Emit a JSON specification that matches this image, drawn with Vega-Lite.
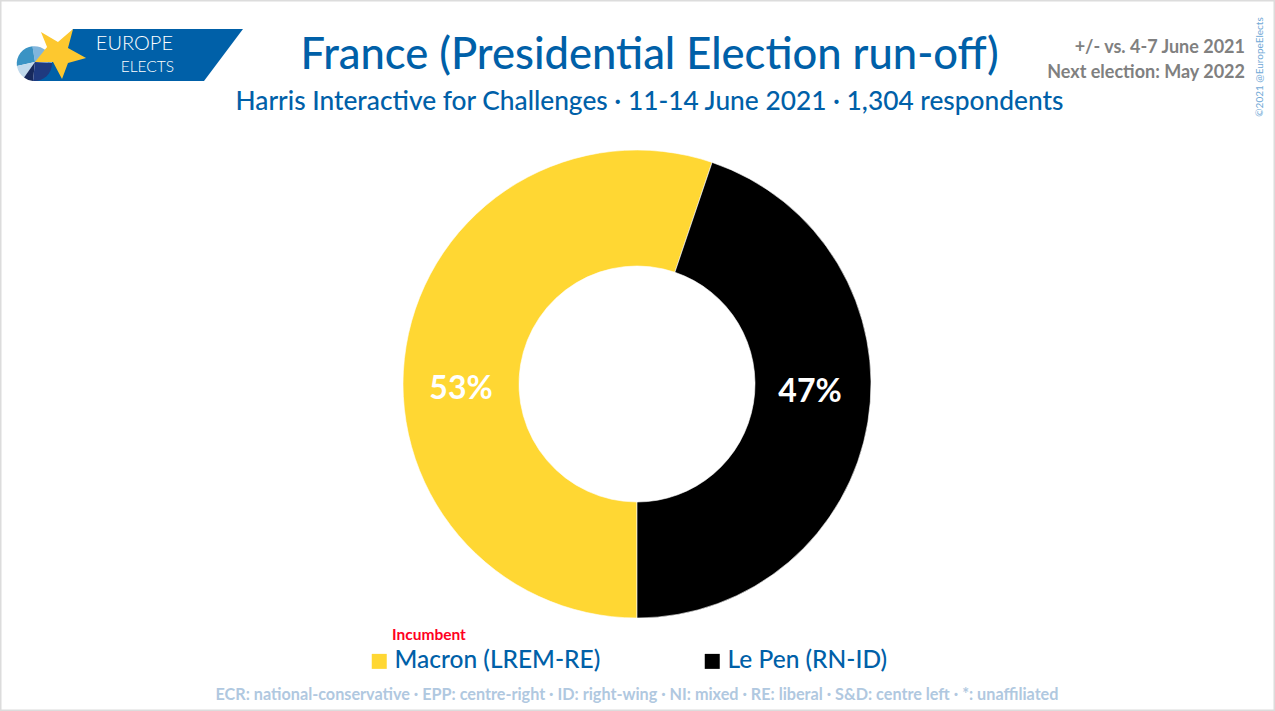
{
  "$schema": "https://vega.github.io/schema/vega-lite/v6.json",
  "width": 1275,
  "height": 711,
  "autosize": "none",
  "padding": 0,
  "background": "white",
  "title": {
    "text": "France (Presidential Election run-off)",
    "subtitle": "Harris Interactive for Challenges · 11-14 June 2021 · 1,304 respondents",
    "anchor": "middle",
    "frame": "group",
    "dx": 12,
    "offset": -116,
    "font": "Lato",
    "fontSize": 43.5,
    "fontWeight": 500,
    "color": "#0060a8",
    "subtitleFont": "Lato",
    "subtitleFontSize": 26.3,
    "subtitleFontWeight": 500,
    "subtitleColor": "#0060a8",
    "subtitlePadding": 10
  },
  "config": {
    "view": {"stroke": "#dcdcdc", "strokeWidth": 3},
    "axis": {"disable": true},
    "text": {"font": "Lato"}
  },
  "layer": [
    {
      "data": {"values": [{"part": "banner"}]},
      "mark": {"type": "point", "filled": true, "opacity": 1, "size": 67600, "fill": "#0060a8", "shape": "M-0.438,-0.085L0.869,-0.085L0.569,0.315L-0.738,0.315Z"},
      "encoding": {
        "x": {"datum": 130, "scale": {"domain": [0, 1275], "nice": false, "zero": false}},
        "y": {"datum": 40, "scale": {"domain": [711, 0], "nice": false, "zero": false}}
      }
    },
    {
      "data": {"values": [{"part": "pie top"}]},
      "mark": {"type": "point", "filled": true, "opacity": 1, "size": 67600, "fill": "#80b5dc", "shape": "M-0.731,0.169L-0.75,0.048A0.135,0.135 0 0 1 -0.6,0.177Z"},
      "encoding": {"x": {"datum": 130}, "y": {"datum": 40}}
    },
    {
      "data": {"values": [{"part": "pie left"}]},
      "mark": {"type": "point", "filled": true, "opacity": 1, "size": 67600, "fill": "#3a93c4", "shape": "M-0.731,0.169L-0.75,0.048A0.135,0.135 0 0 0 -0.87,0.2Z"},
      "encoding": {"x": {"datum": 130}, "y": {"datum": 40}}
    },
    {
      "data": {"values": [{"part": "pie pale"}]},
      "mark": {"type": "point", "filled": true, "opacity": 1, "size": 67600, "fill": "#c0d9ec", "shape": "M-0.731,0.169L-0.87,0.2A0.135,0.135 0 0 0 -0.815,0.288Z"},
      "encoding": {"x": {"datum": 130}, "y": {"datum": 40}}
    },
    {
      "data": {"values": [{"part": "pie dark"}]},
      "mark": {"type": "point", "filled": true, "opacity": 1, "size": 67600, "fill": "#17295c", "shape": "M-0.731,0.169L-0.815,0.288A0.135,0.135 0 0 0 -0.746,0.315Z"},
      "encoding": {"x": {"datum": 130}, "y": {"datum": 40}}
    },
    {
      "data": {"values": [{"part": "pie navy"}]},
      "mark": {"type": "point", "filled": true, "opacity": 1, "size": 67600, "fill": "#1f3a80", "shape": "M-0.731,0.169L-0.746,0.315A0.135,0.135 0 0 0 -0.6,0.177Z"},
      "encoding": {"x": {"datum": 130}, "y": {"datum": 40}}
    },
    {
      "data": {"values": [{"part": "star"}]},
      "mark": {"type": "point", "filled": true, "opacity": 1, "size": 67600, "fill": "#fdc82f", "shape": "M-0.685,-0.062L-0.554,0.015L-0.438,-0.085L-0.477,0.062L-0.338,0.138L-0.477,0.177L-0.523,0.3L-0.592,0.169L-0.731,0.169L-0.638,0.054Z"},
      "encoding": {"x": {"datum": 130}, "y": {"datum": 40}}
    },
    {
      "data": {"values": [{"text": "EUROPE"}]},
      "mark": {"type": "text", "align": "right", "baseline": "middle", "fontSize": 20, "fontWeight": 300, "color": "white"},
      "encoding": {"x": {"datum": 173}, "y": {"datum": 44}, "text": {"field": "text"}}
    },
    {
      "data": {"values": [{"text": "ELECTS"}]},
      "mark": {"type": "text", "align": "right", "baseline": "middle", "fontSize": 15.5, "fontWeight": 300, "color": "white"},
      "encoding": {"x": {"datum": 174}, "y": {"datum": 67}, "text": {"field": "text"}}
    },
    {
      "data": {"values": [
        {"candidate": "Macron (LREM-RE)", "label": "53%", "drawn": 55.2},
        {"candidate": "Le Pen (RN-ID)", "label": "47%", "drawn": 44.8}
      ]},
      "layer": [
        {
          "mark": {"type": "arc", "outerRadius": 234, "innerRadius": 118, "stroke": "white", "strokeWidth": 0.6},
          "encoding": {
            "x": {"datum": 637},
            "y": {"datum": 384},
            "theta": {"field": "drawn", "type": "quantitative", "stack": true, "scale": {"domain": [0, 100], "range": [3.14159, 9.42478]}},
            "order": {"field": "drawn", "sort": "descending"},
            "color": {
              "field": "candidate",
              "type": "nominal",
              "scale": {"domain": ["Macron (LREM-RE)", "Le Pen (RN-ID)"], "range": ["#ffd733", "#000000"]},
              "legend": {
                "orient": "none",
                "legendX": 367,
                "legendY": 649,
                "title": null,
                "direction": "horizontal",
                "columns": 2,
                "columnPadding": 99,
                "symbolType": "square",
                "symbolSize": 225,
                "symbolStrokeWidth": 0,
                "symbolOpacity": 1,
                "labelFont": "Lato",
                "labelFontSize": 24.5,
                "labelFontWeight": 500,
                "labelColor": "#0060a8",
                "labelLimit": 300,
                "labelOffset": 3
              }
            }
          }
        },
        {
          "transform": [{"filter": "datum.label == '53%'"}],
          "mark": {"type": "text", "fontSize": 32, "fontWeight": "bold", "color": "white"},
          "encoding": {"x": {"datum": 461}, "y": {"datum": 389}, "text": {"field": "label"}}
        },
        {
          "transform": [{"filter": "datum.label == '47%'"}],
          "mark": {"type": "text", "fontSize": 32, "fontWeight": "bold", "color": "white"},
          "encoding": {"x": {"datum": 810}, "y": {"datum": 392}, "text": {"field": "label"}}
        }
      ]
    },
    {
      "data": {"values": [{"text": "Incumbent"}]},
      "mark": {"type": "text", "align": "left", "baseline": "middle", "fontSize": 15.5, "fontWeight": "bold", "color": "#ff0022"},
      "encoding": {"x": {"datum": 392}, "y": {"datum": 635}, "text": {"field": "text"}}
    },
    {
      "data": {"values": [{"text": "+/- vs. 4-7 June 2021"}]},
      "mark": {"type": "text", "align": "right", "baseline": "middle", "fontSize": 18, "fontWeight": "bold", "color": "#808080"},
      "encoding": {"x": {"datum": 1245}, "y": {"datum": 48}, "text": {"field": "text"}}
    },
    {
      "data": {"values": [{"text": "Next election: May 2022"}]},
      "mark": {"type": "text", "align": "right", "baseline": "middle", "fontSize": 18, "fontWeight": "bold", "color": "#808080"},
      "encoding": {"x": {"datum": 1245}, "y": {"datum": 73}, "text": {"field": "text"}}
    },
    {
      "data": {"values": [{"text": "©2021 @EuropeElects"}]},
      "mark": {"type": "text", "angle": 270, "align": "center", "baseline": "middle", "fontSize": 10, "color": "#6fa8d6"},
      "encoding": {"x": {"datum": 1260}, "y": {"datum": 67}, "text": {"field": "text"}}
    },
    {
      "data": {"values": [{"text": "ECR: national-conservative · EPP: centre-right · ID: right-wing · NI: mixed · RE: liberal · S&D: centre left · *: unaffiliated"}]},
      "mark": {"type": "text", "align": "center", "baseline": "middle", "fontSize": 16.2, "fontWeight": "bold", "color": "#b0c8e0"},
      "encoding": {"x": {"datum": 637}, "y": {"datum": 695}, "text": {"field": "text"}}
    }
  ]
}
